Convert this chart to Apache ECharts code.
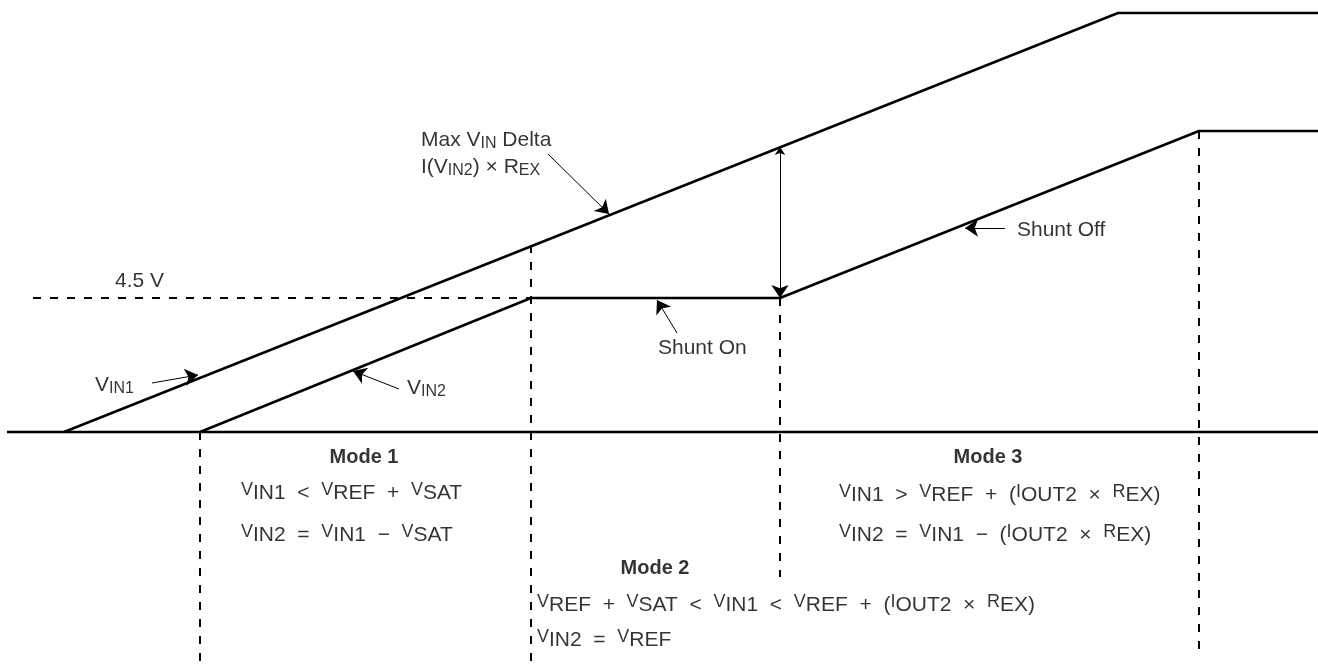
<!DOCTYPE html>
<html lang="en">
<head>
<meta charset="UTF-8" />
<title>Shunt modes</title>
<script src="https://cdn.jsdelivr.net/npm/echarts@6/dist/echarts.min.js"></script>
<style>
  html, body { margin: 0; padding: 0; background: #fff; }
  #main { width: 1318px; height: 664px; }
</style>
</head>
<body>
<div id="main"></div>
<script type="text/javascript">
// x runs left to right, y is the level above the base line (0)
var baseLine = [[7, 0], [1318, 0]];
var vin1 = [[64, 0], [1118, 419], [1318, 419]];
var vin2 = [[200, 0], [531, 134], [780, 134], [1199, 301], [1318, 301]];

// dashed guides: 4.5 V level and mode boundaries
var guides = [
  [[33, 134], [531, 134]],
  [[200, 0], [200, -232]],
  [[531, 187], [531, -232]],
  [[780, 134], [780, -145]],
  [[1199, 301], [1199, -225]]
];

// pointer arrows (tail -> head)
var pointers = [
  [[548, 278], [609, 218]],
  [[152, 49], [198, 57]],
  [[399, 43], [353, 61]],
  [[677, 99], [657, 132]],
  [[1005, 204], [965, 204]]
];
var deltaArrow = [[780, 285], [780, 134]];

// text: [x, y, text, align, bold]
var notes = [
  [421, 292, 'Max V{sub|IN} Delta', 'left', false],
  [421, 265, 'I(V{sub|IN2}) × R{sub|EX}', 'left', false],
  [115, 151, '4.5 V', 'left', false],
  [95, 47, 'V{sub|IN1}', 'left', false],
  [407, 44, 'V{sub|IN2}', 'left', false],
  [658, 84, 'Shunt On', 'left', false],
  [1017, 202, 'Shunt Off', 'left', false],
  [364, -25, 'Mode 1', 'center', true],
  [241, -61, '{v|V}IN1  <  {v|V}REF  +  {v|V}SAT', 'left', false],
  [241, -103, '{v|V}IN2  =  {v|V}IN1  −  {v|V}SAT', 'left', false],
  [655, -136, 'Mode 2', 'center', true],
  [537, -173, '{v|V}REF  +  {v|V}SAT  <  {v|V}IN1  <  {v|V}REF  +  ({v|I}OUT2  ×  {v|R}EX)', 'left', false],
  [537, -208, '{v|V}IN2  =  {v|V}REF', 'left', false],
  [988, -25, 'Mode 3', 'center', true],
  [839, -63, '{v|V}IN1  >  {v|V}REF  +  ({v|I}OUT2  ×  {v|R}EX)', 'left', false],
  [839, -103, '{v|V}IN2  =  {v|V}IN1  −  ({v|I}OUT2  ×  {v|R}EX)', 'left', false]
];

var FONT = '"Liberation Sans", Arial, Helvetica, sans-serif';

function solid(name, pts) {
  return {
    name: name, type: 'line', data: pts, symbol: 'none', silent: true,
    lineStyle: { color: '#000', width: 2.5 }
  };
}

var myChart = echarts.init(document.getElementById('main'));
myChart.setOption({
  backgroundColor: '#fff',
  animation: false,
  grid: { left: 0, right: 0, top: 0, bottom: 0 },
  xAxis: { type: 'value', min: 0, max: 1318, show: false },
  yAxis: { type: 'value', min: -232, max: 432, show: false },
  series: [
    solid('base', baseLine),
    solid('VIN1', vin1),
    solid('VIN2', vin2),
    {
      type: 'lines', coordinateSystem: 'cartesian2d', silent: true,
      symbol: 'none',
      lineStyle: { color: '#000', width: 2, type: [8, 9], opacity: 1 },
      data: guides.map(function (c) { return { coords: c }; })
    },
    {
      type: 'lines', coordinateSystem: 'cartesian2d', silent: true,
      symbol: ['none', 'arrow'], symbolSize: [8, 13],
      lineStyle: { color: '#000', width: 1, opacity: 1 },
      data: pointers.map(function (c) { return { coords: c }; })
    },
    {
      type: 'lines', coordinateSystem: 'cartesian2d', silent: true,
      symbol: ['arrow', 'arrow'], symbolSize: [8, 13],
      lineStyle: { color: '#000', width: 1, opacity: 1 },
      data: [{ coords: deltaArrow }]
    },
    {
      type: 'scatter', symbolSize: 0, silent: true,
      data: notes.map(function (n) {
        return {
          value: [n[0], n[1]],
          label: {
            show: true, position: [0, 0], formatter: n[2],
            align: n[3], verticalAlign: 'middle',
            fontWeight: n[4] ? 'bold' : 'normal',
            fontSize: n[4] ? 20 : 21
          }
        };
      }),
      label: {
        color: '#000', fontSize: 21, lineHeight: 24, fontFamily: FONT,
        rich: {
          sub: { fontSize: 16, lineHeight: 13, verticalAlign: 'bottom', fontFamily: FONT, color: '#000' },
          v: { fontSize: 18, lineHeight: 18, verticalAlign: 'top', fontFamily: FONT, color: '#000' }
        }
      }
    }
  ]
});
</script>
</body>
</html>
